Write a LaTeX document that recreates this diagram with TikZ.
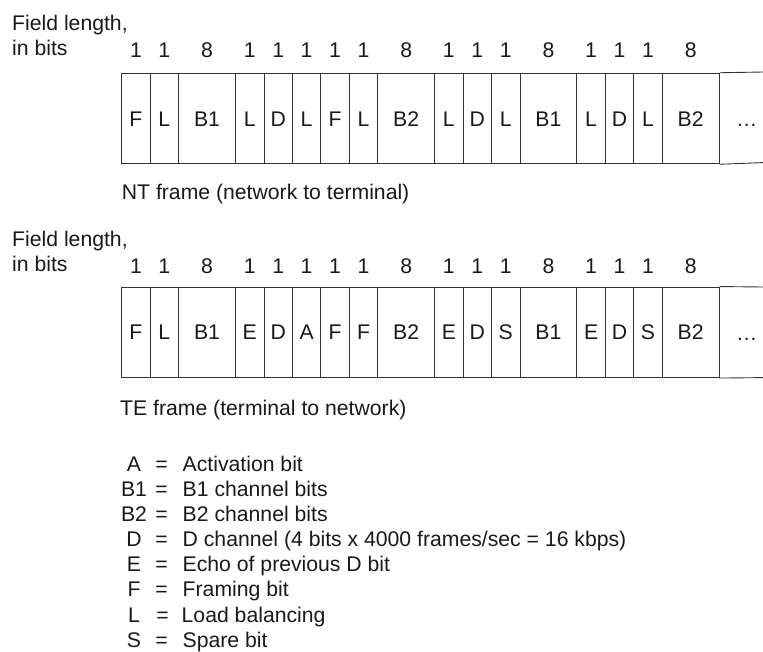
\documentclass[tikz,border=0pt]{standalone}
\usepackage{fontspec}
\setmainfont{Liberation Sans}
\begin{document}
\begin{tikzpicture}[x=1pt,y=-1pt,
  every node/.style={font=\fontsize{21.2}{25}\selectfont, text=black!90, inner sep=0pt},
  cellbox/.style={draw=black!80, line width=0.9pt, minimum height=90.6pt, text height=15.2pt, text depth=0pt, anchor=center},
  numlbl/.style={anchor=base},
  txtlbl/.style={anchor=base west},
  rule/.style={draw=black!80, line width=0.9pt}
]
\useasboundingbox (0,0) rectangle (763,651);
\def\ux{28.45}
% ---------------- NT frame ----------------
\node[txtlbl] (ntfl) at (12,30) {Field length,};
\node[txtlbl] (ntib) at (12,55.7) {in bits};
\foreach \s/\w/\l/\n [count=\i] in {0/1/F/1,1/1/L/1,2/2/B1/8,4/1/L/1,5/1/D/1,6/1/L/1,7/1/F/1,8/1/L/1,9/2/B2/8,11/1/L/1,12/1/D/1,13/1/L/1,14/2/B1/8,16/1/L/1,17/1/D/1,18/1/L/1,19/2/B2/8}{
  \node[cellbox, minimum width={\w*\ux pt}] (nt\i) at ({121.7+(\s+\w/2)*\ux},118.5) {\l};
  \node[numlbl] (ntn\i) at ({121.7+(\s+\w/2)*\ux},57.3) {\n};
}
\coordinate (ntendt) at (763,72);
\coordinate (ntendb) at (763,162.6);
\draw[rule] (nt17.north east) -- (ntendt);
\draw[rule] (nt17.south east) -- (ntendb);
\node[numlbl] (ntdots) at (746.7,126) {…};
\node[txtlbl] (ntlabel) at (121.7,199.3) {NT frame (network to terminal)};
% ---------------- TE frame ----------------
\node[txtlbl] (tefl) at (12,246.7) {Field length,};
\node[txtlbl] (teib) at (12,271) {in bits};
\foreach \s/\w/\l/\n [count=\i] in {0/1/F/1,1/1/L/1,2/2/B1/8,4/1/E/1,5/1/D/1,6/1/A/1,7/1/F/1,8/1/F/1,9/2/B2/8,11/1/E/1,12/1/D/1,13/1/S/1,14/2/B1/8,16/1/E/1,17/1/D/1,18/1/S/1,19/2/B2/8}{
  \node[cellbox, minimum width={\w*\ux pt}] (te\i) at ({121.7+(\s+\w/2)*\ux},332.3) {\l};
  \node[numlbl] (ten\i) at ({121.7+(\s+\w/2)*\ux},273.3) {\n};
}
\coordinate (teendt) at (763,287);
\coordinate (teendb) at (763,377.6);
\draw[rule] (te17.north east) -- (teendt);
\draw[rule] (te17.south east) -- (teendb);
\node[numlbl] (tedots) at (746.7,340) {…};
\node[txtlbl] (telabel) at (120,415) {TE frame (terminal to network)};
% ---------------- Legend ----------------
\foreach \k/\d/\yy/\ex [count=\i] in {A/Activation bit/471.7/0, B1/B1 channel bits/496.7/0, B2/B2 channel bits/521.7/0, D/{D channel (4 bits x 4000 frames/sec = 16 kbps)}/546.7/0, E/Echo of previous D bit/571.7/0, F/Framing bit/596.7/0, L/Load balancing/622.2/1, S/Spare bit/647.7/0}{
  \node[numlbl] (lk\i) at (134,\yy) {\k};
  \node[numlbl] (le\i) at ({161.5+\ex},\yy) {=};
  \node[txtlbl] (ld\i) at ({182.5-\ex},\yy) {\d};
}
\end{tikzpicture}
\end{document}
